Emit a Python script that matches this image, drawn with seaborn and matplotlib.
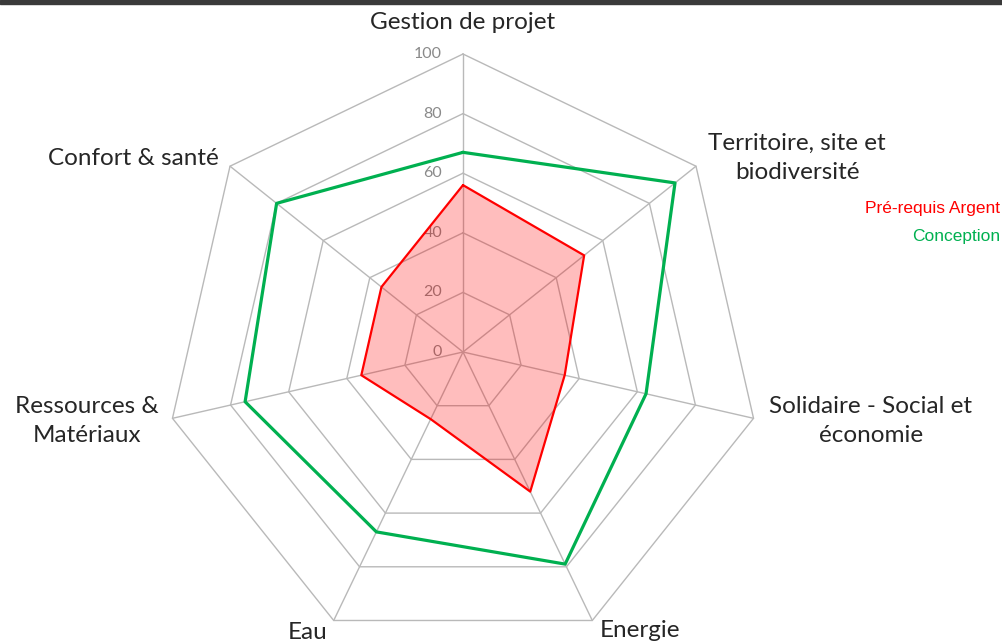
import numpy as np
import pandas as pd
import matplotlib
matplotlib.use("Agg")
import matplotlib.pyplot as plt
import seaborn as sns
from matplotlib.patches import Rectangle

# axes of the radar, clockwise from the top
categories = ["Gestion de projet", "Territoire, site et\nbiodiversité",
              "Solidaire - Social et\néconomie", "Energie", "Eau",
              "Ressources &\nMatériaux", "Confort & santé"]
prerequis = [56, 52, 35, 52, 25, 35, 35]
conception = [67, 91, 63, 79, 67, 75, 80]
tick_levels = [0, 20, 40, 60, 80, 100]

sns.set_theme(style="white")
plt.rcParams['font.family'] = ['Lato', 'DejaVu Sans']

n = len(categories)
ang = np.pi / 2 - np.arange(n) * 2 * np.pi / n

def to_xy(vals):
    v = np.append(vals, vals[0])
    a = np.append(ang, ang[0])
    return v * np.cos(a), v * np.sin(a)

rows = []
for name, vals in [("Pré-requis Argent", prerequis), ("Conception", conception)]:
    x, y = to_xy(np.array(vals, dtype=float))
    for i in range(len(x)):
        rows.append({"serie": name, "x": x[i], "y": y[i], "ordre": i})
df = pd.DataFrame(rows)

fig = plt.figure(figsize=(10.03, 6.43), dpi=100)
ax = fig.add_axes([0, 0, 1, 1])
s = 2.98  # pixels per unit
ax.axis("off")

grid_col = "#b9b9b9"
for lv in tick_levels[1:]:
    gx, gy = to_xy(np.full(n, float(lv)))
    ax.plot(gx, gy, color=grid_col, lw=1.0, zorder=1)
for a in ang:
    ax.plot([0, 100 * np.cos(a)], [0, 100 * np.sin(a)], color=grid_col, lw=1.0, zorder=1)

for lv in tick_levels:
    ax.text(-7.0, lv, str(lv), ha="right", va="center", fontsize=11.5,
            color="#8a8a8a", zorder=2)

rx, ry = to_xy(np.array(prerequis, dtype=float))
ax.fill(rx, ry, color="#ff0000", alpha=0.26, lw=0, zorder=3)
sns.lineplot(data=df, x="x", y="y", hue="serie", sort=False, estimator=None,
             units="serie", palette={"Pré-requis Argent": "#ff0000", "Conception": "#00b050"},
             legend=False, ax=ax, zorder=4)
for line, lw in zip(ax.get_lines()[-2:], [1.6, 2.3]):
    line.set_linewidth(lw)
ax.set_xlim(-463 / s, (1003 - 463) / s)
ax.set_ylim(-(643 - 352) / s, 352 / s)
ax.set_aspect("auto")
ax.axis("off")

# axis labels
lab_pos = [(0, 110.7), (112.1, 65.1), (136.9, -23.2), (59.4, -93.6),
           (-52.3, -94.0), (-126.2, -23.2), (-110.7, 65.1)]
for lab, (lx, ly) in zip(categories, lab_pos):
    ax.text(lx, ly, lab, ha="center", va="center", fontsize=17.5,
            color="#262626", linespacing=1.45)

# legend
fig.text(1000 / 1003, 1 - 209 / 643, "Pré-requis Argent", ha="right", va="center",
         fontsize=12.5, color="#ff0000", family="Liberation Sans")
fig.text(1000 / 1003, 1 - 236 / 643, "Conception", ha="right", va="center",
         fontsize=12.5, color="#00b050", family="Liberation Sans")

fig.patches.append(Rectangle((0, 1 - 4 / 643), 1, 4 / 643, transform=fig.transFigure,
                             color="#3a3a3a", zorder=10))

fig.savefig("out.png", dpi=100)
